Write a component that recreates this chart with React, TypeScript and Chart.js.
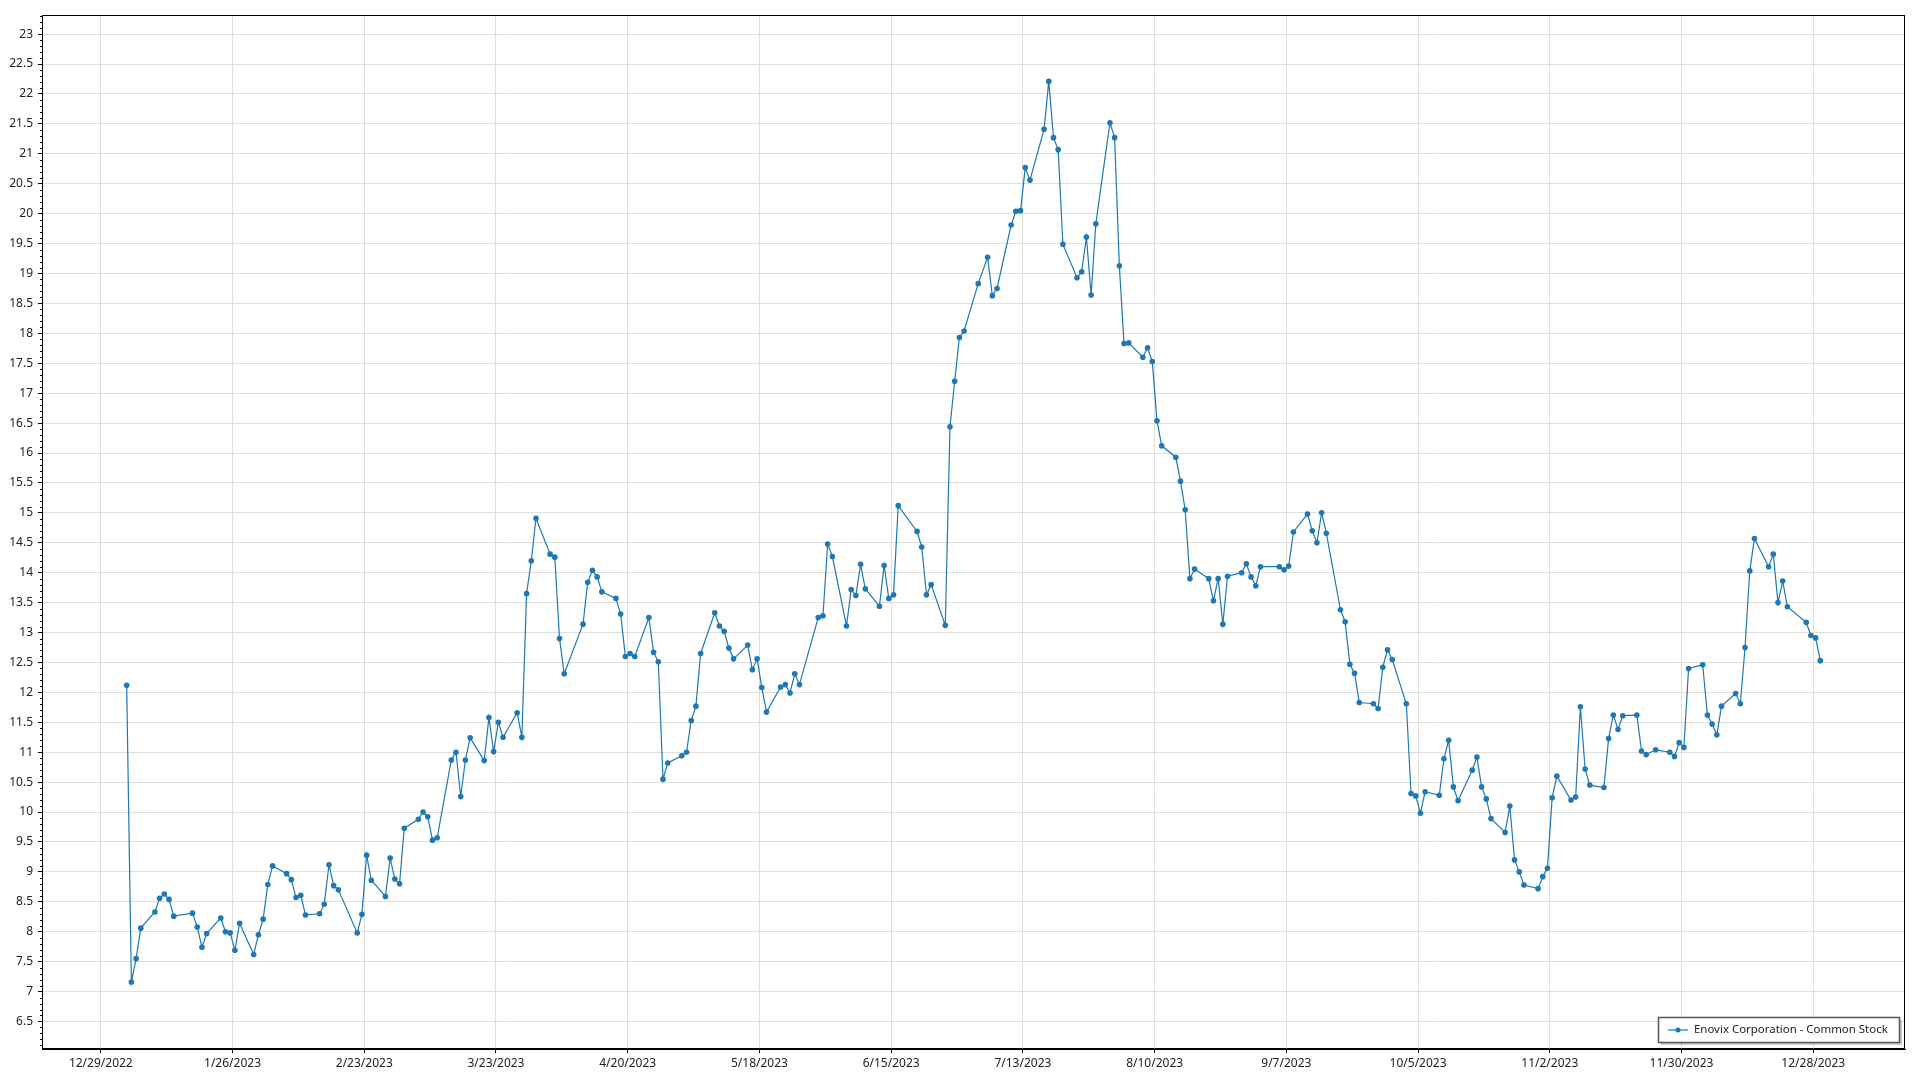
import React, { useEffect, useRef } from 'react';
import { Chart, registerables } from 'chart.js';

Chart.register(...registerables);

const SERIES_LABEL = 'Enovix Corporation - Common Stock';

const dates: string[] = [
  '2023-01-03','2023-01-04','2023-01-05','2023-01-06','2023-01-09','2023-01-10','2023-01-11','2023-01-12','2023-01-13',
  '2023-01-17','2023-01-18','2023-01-19','2023-01-20','2023-01-23','2023-01-24','2023-01-25','2023-01-26','2023-01-27',
  '2023-01-30','2023-01-31','2023-02-01','2023-02-02','2023-02-03','2023-02-06','2023-02-07','2023-02-08','2023-02-09',
  '2023-02-10','2023-02-13','2023-02-14','2023-02-15','2023-02-16','2023-02-17','2023-02-21','2023-02-22','2023-02-23',
  '2023-02-24','2023-02-27','2023-02-28','2023-03-01','2023-03-02','2023-03-03','2023-03-06','2023-03-07','2023-03-08',
  '2023-03-09','2023-03-10','2023-03-13','2023-03-14','2023-03-15','2023-03-16','2023-03-17','2023-03-20','2023-03-21',
  '2023-03-22','2023-03-23','2023-03-24','2023-03-27','2023-03-28','2023-03-29','2023-03-30','2023-03-31','2023-04-03',
  '2023-04-04','2023-04-05','2023-04-06','2023-04-10','2023-04-11','2023-04-12','2023-04-13','2023-04-14','2023-04-17',
  '2023-04-18','2023-04-19','2023-04-20','2023-04-21','2023-04-24','2023-04-25','2023-04-26','2023-04-27','2023-04-28',
  '2023-05-01','2023-05-02','2023-05-03','2023-05-04','2023-05-05','2023-05-08','2023-05-09','2023-05-10','2023-05-11',
  '2023-05-12','2023-05-15','2023-05-16','2023-05-17','2023-05-18','2023-05-19','2023-05-22','2023-05-23','2023-05-24',
  '2023-05-25','2023-05-26','2023-05-30','2023-05-31','2023-06-01','2023-06-02','2023-06-05','2023-06-06','2023-06-07',
  '2023-06-08','2023-06-09','2023-06-12','2023-06-13','2023-06-14','2023-06-15','2023-06-16','2023-06-20','2023-06-21',
  '2023-06-22','2023-06-23','2023-06-26','2023-06-27','2023-06-28','2023-06-29','2023-06-30','2023-07-03','2023-07-05',
  '2023-07-06','2023-07-07','2023-07-10','2023-07-11','2023-07-12','2023-07-13','2023-07-14','2023-07-17','2023-07-18',
  '2023-07-19','2023-07-20','2023-07-21','2023-07-24','2023-07-25','2023-07-26','2023-07-27','2023-07-28','2023-07-31',
  '2023-08-01','2023-08-02','2023-08-03','2023-08-04','2023-08-07','2023-08-08','2023-08-09','2023-08-10','2023-08-11',
  '2023-08-14','2023-08-15','2023-08-16','2023-08-17','2023-08-18','2023-08-21','2023-08-22','2023-08-23','2023-08-24',
  '2023-08-25','2023-08-28','2023-08-29','2023-08-30','2023-08-31','2023-09-01','2023-09-05','2023-09-06','2023-09-07',
  '2023-09-08','2023-09-11','2023-09-12','2023-09-13','2023-09-14','2023-09-15','2023-09-18','2023-09-19','2023-09-20',
  '2023-09-21','2023-09-22','2023-09-25','2023-09-26','2023-09-27','2023-09-28','2023-09-29','2023-10-02','2023-10-03',
  '2023-10-04','2023-10-05','2023-10-06','2023-10-09','2023-10-10','2023-10-11','2023-10-12','2023-10-13','2023-10-16',
  '2023-10-17','2023-10-18','2023-10-19','2023-10-20','2023-10-23','2023-10-24','2023-10-25','2023-10-26','2023-10-27',
  '2023-10-30','2023-10-31','2023-11-01','2023-11-02','2023-11-03','2023-11-06','2023-11-07','2023-11-08','2023-11-09',
  '2023-11-10','2023-11-13','2023-11-14','2023-11-15','2023-11-16','2023-11-17','2023-11-20','2023-11-21','2023-11-22',
  '2023-11-24','2023-11-27','2023-11-28','2023-11-29','2023-11-30','2023-12-01','2023-12-04','2023-12-05','2023-12-06',
  '2023-12-07','2023-12-08','2023-12-11','2023-12-12','2023-12-13','2023-12-14','2023-12-15','2023-12-18','2023-12-19',
  '2023-12-20','2023-12-21','2023-12-22','2023-12-26','2023-12-27','2023-12-28','2023-12-29',
];

const prices: number[] = [
  12.12, 7.16, 7.55, 8.06, 8.33, 8.56, 8.63, 8.54, 8.26,
  8.31, 8.08, 7.74, 7.97, 8.23, 8.0, 7.98, 7.69, 8.14,
  7.62, 7.95, 8.21, 8.79, 9.1, 8.97, 8.87, 8.57, 8.61,
  8.28, 8.3, 8.46, 9.12, 8.77, 8.7, 7.98, 8.29, 9.28,
  8.86, 8.59, 9.23, 8.88, 8.8, 9.73, 9.88, 10.0, 9.92,
  9.53, 9.57, 10.87, 11.0, 10.26, 10.87, 11.24, 10.86, 11.58,
  11.01, 11.5, 11.25, 11.66, 11.25, 13.65, 14.2, 14.91, 14.31,
  14.26, 12.9, 12.31, 13.14, 13.84, 14.04, 13.93, 13.68, 13.57,
  13.31, 12.6, 12.65, 12.6, 13.25, 12.67, 12.51, 10.55, 10.82,
  10.94, 11.0, 11.53, 11.77, 12.65, 13.33, 13.11, 13.02, 12.74,
  12.56, 12.79, 12.38, 12.56, 12.08, 11.67, 12.09, 12.13, 11.99,
  12.31, 12.13, 13.25, 13.28, 14.48, 14.27, 13.11, 13.72, 13.62,
  14.14, 13.73, 13.44, 14.12, 13.57, 13.63, 15.12, 14.69, 14.43,
  13.63, 13.8, 13.12, 16.44, 17.2, 17.93, 18.04, 18.83, 19.27,
  18.63, 18.75, 19.81, 20.04, 20.05, 20.77, 20.56, 21.41, 22.21,
  21.27, 21.07, 19.49, 18.93, 19.03, 19.61, 18.64, 19.83, 21.52,
  21.27, 19.13, 17.83, 17.84, 17.6, 17.76, 17.53, 16.54, 16.12,
  15.93, 15.53, 15.05, 13.9, 14.06, 13.9, 13.53, 13.9, 13.14,
  13.94, 14.0, 14.15, 13.93, 13.78, 14.1, 14.1, 14.05, 14.11,
  14.68, 14.98, 14.7, 14.5, 15.0, 14.66, 13.38, 13.18, 12.47,
  12.32, 11.83, 11.81, 11.73, 12.42, 12.71, 12.55, 11.81, 10.31,
  10.27, 9.98, 10.34, 10.28, 10.89, 11.2, 10.42, 10.19, 10.7,
  10.92, 10.42, 10.22, 9.89, 9.66, 10.1, 9.2, 9.0, 8.78,
  8.72, 8.92, 9.06, 10.24, 10.6, 10.2, 10.25, 11.76, 10.72,
  10.45, 10.41, 11.23, 11.62, 11.38, 11.61, 11.62, 11.02, 10.96,
  11.04, 11.0, 10.93, 11.16, 11.08, 12.4, 12.46, 11.62, 11.47,
  11.29, 11.77, 11.98, 11.81, 12.75, 14.03, 14.57, 14.1, 14.31,
  13.5, 13.86, 13.43, 13.17, 12.95, 12.91, 12.53,
];

const xTickLabels: string[] = [
  '12/29/2022', '1/26/2023', '2/23/2023', '3/23/2023', '4/20/2023', '5/18/2023', '6/15/2023',
  '7/13/2023', '8/10/2023', '9/7/2023', '10/5/2023', '11/2/2023', '11/30/2023', '12/28/2023',
];

const yTickValues: number[] = [
  6.5, 7, 7.5, 8, 8.5, 9, 9.5, 10, 10.5, 11, 11.5, 12, 12.5, 13, 13.5, 14, 14.5,
  15, 15.5, 16, 16.5, 17, 17.5, 18, 18.5, 19, 19.5, 20, 20.5, 21, 21.5, 22, 22.5, 23,
];

const EPOCH = Date.UTC(2022, 11, 29);
const isoToDay = (s: string) => {
  const [y, m, d] = s.split('-').map(Number);
  return (Date.UTC(y, m - 1, d) - EPOCH) / 86400000;
};
const mdyToDay = (s: string) => {
  const [m, d, y] = s.split('/').map(Number);
  return (Date.UTC(y, m - 1, d) - EPOCH) / 86400000;
};

const LINE_COLOR = '#1f77b4';
const FONT = '"Noto Sans", "Open Sans", sans-serif';

const extrasPlugin = {
  id: 'extras',
  afterDraw(chart: any) {
    const { ctx, chartArea: a, scales } = chart;
    ctx.save();
    // frame
    ctx.strokeStyle = '#000';
    ctx.lineWidth = 1;
    const l = Math.round(a.left) + 0.5;
    const t = Math.round(a.top) + 0.5;
    const r = Math.round(a.right) - 0.5;
    const b = Math.round(a.bottom) - 0.5;
    ctx.strokeRect(l, t, r - l, b - t);
    // minor ticks on y
    const ys = scales.y;
    ctx.beginPath();
    for (let i = Math.ceil(ys.min * 10); i <= Math.floor(ys.max * 10); i++) {
      if (i % 5 === 0) continue;
      const py = Math.round(ys.getPixelForValue(i / 10)) + 0.5;
      ctx.moveTo(l - 2.5, py);
      ctx.lineTo(l, py);
    }
    ctx.stroke();
    // legend
    const label = chart.data.datasets[0].label;
    ctx.font = '12px ' + FONT;
    const w12 = ctx.measureText(label).width;
    const fs = Math.min(12, (12 * 194) / w12);
    ctx.font = fs.toFixed(2) + 'px ' + FONT;
    const tw = ctx.measureText(label).width;
    const bw = Math.round(tw + 47);
    const bh = 25;
    const bx = Math.round(a.right) - 6 - bw;
    const by = Math.round(a.bottom) - 7 - bh;
    ctx.fillStyle = 'rgba(0,0,0,0.2)';
    ctx.fillRect(bx + 3, by + 3, bw, bh);
    ctx.fillStyle = '#fff';
    ctx.fillRect(bx, by, bw, bh);
    ctx.strokeStyle = '#555';
    ctx.lineWidth = 1.5;
    ctx.strokeRect(bx + 0.5, by + 0.5, bw, bh);
    const cy = by + bh / 2 + 0.5;
    ctx.strokeStyle = 'rgba(31,119,180,0.6)';
    ctx.lineWidth = 2;
    ctx.beginPath();
    ctx.moveTo(bx + 10, cy);
    ctx.lineTo(bx + 30, cy);
    ctx.stroke();
    ctx.fillStyle = LINE_COLOR;
    ctx.beginPath();
    ctx.arc(bx + 20, cy, 2.5, 0, Math.PI * 2);
    ctx.fill();
    ctx.fillStyle = '#222';
    ctx.textBaseline = 'middle';
    ctx.textAlign = 'left';
    ctx.fillText(label, bx + 36, cy);
    ctx.restore();
  },
};

export default function App() {
  const ref = useRef<HTMLCanvasElement | null>(null);

  useEffect(() => {
    if (!ref.current) return;
    const points = dates.map((d, i) => ({ x: isoToDay(d) + 0.5, y: prices[i] }));
    const xTicks = xTickLabels.map((s) => ({ value: mdyToDay(s), label: s }));

    const chart = new Chart(ref.current, {
      type: 'line',
      data: {
        datasets: [
          {
            label: SERIES_LABEL,
            data: points,
            borderColor: LINE_COLOR,
            backgroundColor: LINE_COLOR,
            borderWidth: 1.2,
            pointRadius: 2.8,
            pointBorderWidth: 0,
            pointBackgroundColor: LINE_COLOR,
            tension: 0,
            fill: false,
          },
        ],
      },
      options: {
        animation: false,
        responsive: false,
        maintainAspectRatio: false,
        layout: { padding: { top: 15, right: 15, left: 0, bottom: 0 } },
        plugins: {
          legend: { display: false },
          tooltip: { enabled: false },
        },
        scales: {
          x: {
            type: 'linear',
            min: -12.5,
            max: 383.5,
            afterBuildTicks: (scale: any) => {
              scale.ticks = xTicks.map((t) => ({ value: t.value }));
            },
            afterFit: (scale: any) => {
              scale.height = 31;
            },
            ticks: {
              autoSkip: false,
              maxRotation: 0,
              padding: 3,
              color: '#222',
              font: { family: FONT, size: 12 },
              callback: (v: any) => {
                const f = xTicks.find((t) => Math.abs(t.value - v) < 0.01);
                return f ? f.label : '';
              },
            },
            grid: { color: '#dedede', tickColor: '#000', tickLength: 4, drawTicks: true },
            border: { display: true, color: '#000', width: 1 },
          },
          y: {
            type: 'linear',
            min: 6.04,
            max: 23.32,
            afterBuildTicks: (scale: any) => {
              scale.ticks = yTickValues.map((v) => ({ value: v }));
            },
            afterFit: (scale: any) => {
              scale.width = 42;
            },
            ticks: {
              autoSkip: false,
              padding: 5,
              color: '#222',
              font: { family: FONT, size: 12 },
              callback: (v: any) => String(v),
            },
            grid: { color: '#dedede', tickColor: '#000', tickLength: 4, drawTicks: true },
            border: { display: true, color: '#000', width: 1 },
          },
        },
      },
      plugins: [extrasPlugin],
    });
    return () => chart.destroy();
  }, []);

  return (
    <div style={{ position: 'absolute', left: 0, top: 0, width: 1920, height: 1080, background: '#fff' }}>
      <canvas ref={ref} width={1920} height={1080} style={{ display: 'block' }} />
    </div>
  );
}
